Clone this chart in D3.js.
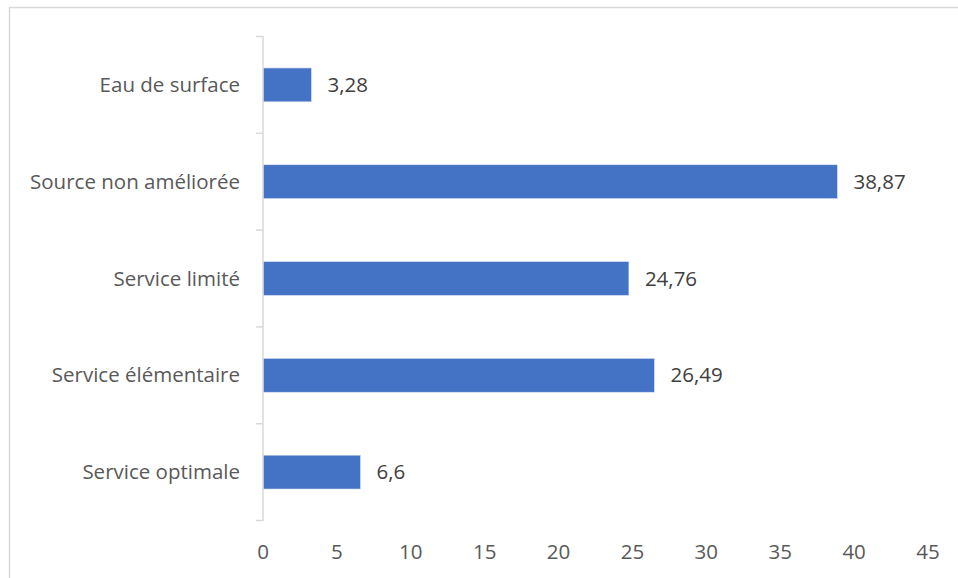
<!DOCTYPE html>
<html><head><meta charset="utf-8">
<script src="https://cdn.jsdelivr.net/npm/d3@7"></script>
<style>body{margin:0;background:#fff}svg{display:block}</style>
</head><body>
<script>
const categories = ["Eau de surface","Source non améliorée","Service limité","Service élémentaire","Service optimale"];
const values = [3.28, 38.87, 24.76, 26.49, 6.6];
const labels = ["3,28","38,87","24,76","26,49","6,6"];
const xTicks = [0,5,10,15,20,25,30,35,40,45];

const W = 958, H = 578;
const svg = d3.select("body").append("svg").attr("width", W).attr("height", H);
const font = "'Open Sans', Calibri, sans-serif";
const fs = 20.5;

svg.append("rect").attr("x", 9.5).attr("y", 7.5).attr("width", 1000).attr("height", 1000)
  .attr("fill", "none").attr("stroke", "#d9d9d9").attr("stroke-width", 1.5);

const x = d3.scaleLinear().domain([0,45]).range([263, 928]);
const y = d3.scaleBand().domain(categories).range([36.5, 520.5]).paddingInner(0.65).paddingOuter(0.325);

// bars
svg.selectAll("rect.bar").data(categories).enter().append("rect")
  .attr("class","bar")
  .attr("x", x(0)).attr("y", d => y(d))
  .attr("width", (d,i) => x(values[i]) - x(0))
  .attr("height", y.bandwidth())
  .attr("fill", "#4472c4").attr("stroke", "#dfe6f3").attr("stroke-width", 0.6);

// left axis line and boundary ticks
const step = y.step();
const bounds = d3.range(categories.length + 1).map(i => 36.5 + i * step);
svg.append("line").attr("x1", 263).attr("x2", 263).attr("y1", 36).attr("y2", 521)
  .attr("stroke", "#d9d9d9").attr("stroke-width", 1.5);
svg.selectAll("line.tk").data(bounds).enter().append("line").attr("class","tk")
  .attr("x1", 256).attr("x2", 263).attr("y1", d => d).attr("y2", d => d)
  .attr("stroke", "#d9d9d9").attr("stroke-width", 1.5);

// category labels
svg.selectAll("text.cat").data(categories).enter().append("text").attr("class","cat")
  .attr("x", 240).attr("y", d => y(d) + y.bandwidth()/2)
  .attr("dy", "0.35em").attr("text-anchor","end")
  .attr("font-family", font).attr("font-size", fs).attr("fill", "#595959")
  .text(d => d);

// value labels
svg.selectAll("text.val").data(categories).enter().append("text").attr("class","val")
  .attr("x", (d,i) => x(values[i]) + 16).attr("y", d => y(d) + y.bandwidth()/2)
  .attr("dy", "0.35em")
  .attr("font-family", font).attr("font-size", fs).attr("fill", "#404040")
  .text((d,i) => labels[i]);

// x tick labels
svg.selectAll("text.xt").data(xTicks).enter().append("text").attr("class","xt")
  .attr("x", d => x(d)).attr("y", 552).attr("dy","0.35em").attr("text-anchor","middle")
  .attr("font-family", font).attr("font-size", fs).attr("fill", "#595959")
  .text(d => d);
</script>
</body></html>
